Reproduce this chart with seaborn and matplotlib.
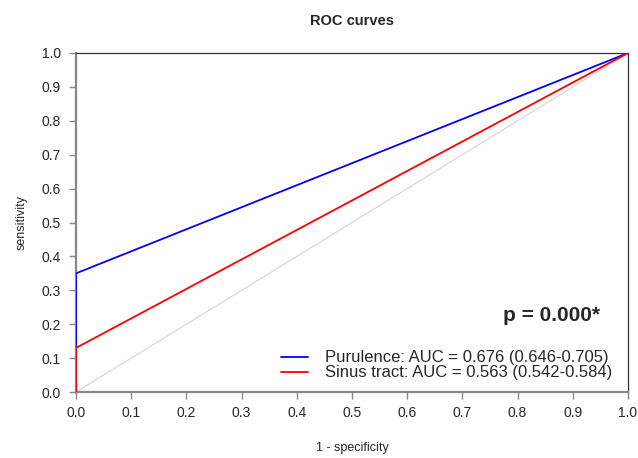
import pandas as pd
import matplotlib.pyplot as plt
import seaborn as sns

# ROC points
fpr_purulence = [0.0, 0.0, 1.0]
tpr_purulence = [0.0, 0.35, 1.0]
fpr_sinus = [0.0, 0.0, 1.0]
tpr_sinus = [0.0, 0.13, 1.0]
ref_x = [0.0, 1.0]
ref_y = [0.0, 1.0]

labels = ["Purulence: AUC = 0.676 (0.646-0.705)",
          "Sinus tract: AUC = 0.563 (0.542-0.584)"]
ticks = [0.0, 0.1, 0.2, 0.3, 0.4, 0.5, 0.6, 0.7, 0.8, 0.9, 1.0]

df = pd.concat([
    pd.DataFrame({"fpr": fpr_purulence, "tpr": tpr_purulence, "curve": labels[0]}),
    pd.DataFrame({"fpr": fpr_sinus, "tpr": tpr_sinus, "curve": labels[1]}),
])

sns.set_style("white")
plt.rcParams['font.family'] = ['Liberation Sans', 'DejaVu Sans']

fig = plt.figure(figsize=(6.38, 4.58), dpi=100)
ax = fig.add_axes([76/638, 66/458, 552/638, 339/458])

ax.plot(ref_x, ref_y, color="#d3d3d3", linewidth=0.8, zorder=1)
sns.lineplot(data=df, x="fpr", y="tpr", hue="curve", sort=False, estimator=None,
             palette=["blue", "red"], linewidth=1.3, ax=ax, zorder=3)

ax.set_xlim(0, 1)
ax.set_ylim(0, 1)
ax.set_xticks(ticks)
ax.set_yticks(ticks)
ax.set_xticklabels([f"{t:.1f}" for t in ticks])
ax.set_yticklabels([f"{t:.1f}" for t in ticks])
ax.tick_params(axis="both", direction="out", length=5, width=1, color="#888888",
               labelsize=10, pad=6, bottom=True, left=True)
ax.tick_params(axis="x", pad=5)

for side in ["top", "right"]:
    ax.spines[side].set_color("#333333")
    ax.spines[side].set_linewidth(0.9)
for side in ["left", "bottom"]:
    ax.spines[side].set_color("#888888")
    ax.spines[side].set_linewidth(1.6)

ax.set_xlabel("1 - specificity", fontsize=9, labelpad=16)
ax.set_ylabel("sensitivity", fontsize=9, labelpad=10)
ax.set_title("ROC curves", fontsize=10.5, fontweight="bold", pad=20)

ax.text(0.949, 0.225, "p = 0.000*", fontsize=15, fontweight="bold",
        ha="right", va="center", transform=ax.transAxes)

ax.legend(loc="lower right", bbox_to_anchor=(0.995, -0.005), frameon=False,
          fontsize=12, handlelength=1.6, handletextpad=1.0,
          labelspacing=0.0, title=None, borderpad=0.3)

fig.savefig("out.png", dpi=100)
